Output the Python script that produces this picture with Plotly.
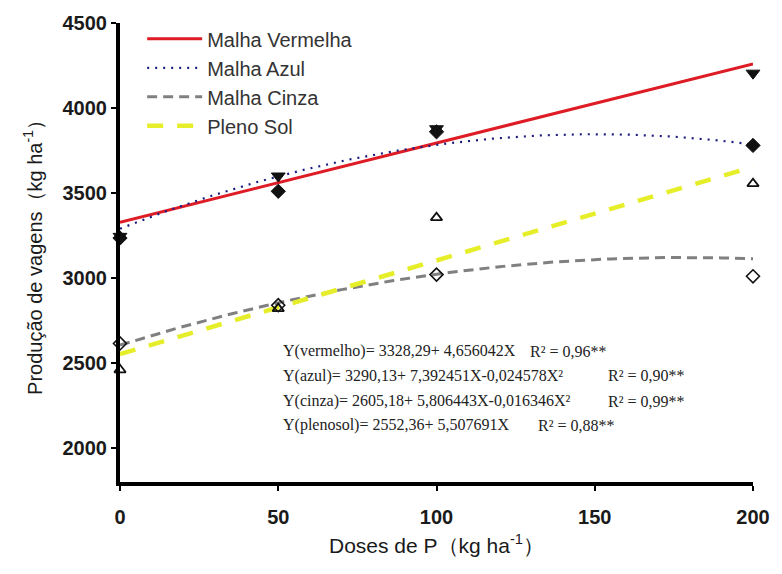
import numpy as np
import plotly.graph_objects as go

# Phosphorus doses (kg ha-1)
doses = [0, 50, 100, 200]

# Observed pod yield (kg ha-1) per shading net
obs_vermelha = [3245, 3600, 3878, 4205]
obs_azul = [3235, 3510, 3860, 3780]
obs_cinza = [2615, 2840, 3020, 3010]
obs_pleno_sol = [2460, 2820, 3355, 3555]

# Regression coefficients [b0, b1, b2] as given by the fitted equations
coef_vermelha = [3328.29, 4.656042, 0.0]
coef_azul = [3290.13, 7.392451, -0.024578]
coef_cinza = [2605.18, 5.806443, -0.016346]
coef_pleno_sol = [2552.36, 5.507691, 0.0]

series_names = ["Malha Vermelha", "Malha Azul", "Malha Cinza", "Pleno Sol"]
equation_texts = [
    "Y(vermelho)= 3328,29+ 4,656042X",
    "Y(azul)= 3290,13+ 7,392451X-0,024578X²",
    "Y(cinza)= 2605,18+ 5,806443X-0,016346X²",
    "Y(plenosol)= 2552,36+ 5,507691X",
]
r2_texts = ["R² = 0,96**", "R² = 0,90**", "R² = 0,99**", "R² = 0,88**"]

y_ticks = [2000, 2500, 3000, 3500, 4000, 4500]
x_ticks = [0, 50, 100, 150, 200]

line_styles = [
    dict(color="#dd1c25", width=3, dash="solid"),
    dict(color="#1c1c80", width=2.2, dash="2px,6px"),
    dict(color="#808080", width=3, dash="10px,6px"),
    dict(color="#e6ee2a", width=4.5, dash="16px,14px"),
]
marker_styles = [
    dict(symbol="triangle-down", size=12, color="#111111", line=dict(color="#111111", width=1)),
    dict(symbol="diamond", size=11, color="#111111", line=dict(color="#111111", width=1)),
    dict(symbol="diamond-open", size=10, color="#111111", line=dict(color="#111111", width=1.6)),
    dict(symbol="triangle-up-open", size=10, color="#111111", line=dict(color="#111111", width=1.8)),
]

observed = [obs_vermelha, obs_azul, obs_cinza, obs_pleno_sol]
coefs = [coef_vermelha, coef_azul, coef_cinza, coef_pleno_sol]

x_fit = np.linspace(0, 200, 201)

fig = go.Figure()

# Fitted curves (shown in the legend)
for name, c, ls in zip(series_names, coefs, line_styles):
    y_fit = c[0] + c[1] * x_fit + c[2] * x_fit ** 2
    fig.add_trace(go.Scatter(
        x=x_fit, y=y_fit, mode="lines", name=name, line=ls,
        cliponaxis=False,
    ))

# Observed means
for name, obs, ms in zip(series_names, observed, marker_styles):
    fig.add_trace(go.Scatter(
        x=doses, y=obs, mode="markers", name=name, marker=ms,
        showlegend=False, cliponaxis=False,
    ))

# Regression equations
eq_y = [2570, 2424, 2276, 2135]
r2_x = [129, 153.5, 153.5, 131.5]
for txt, r2, yy, rx in zip(equation_texts, r2_texts, eq_y, r2_x):
    fig.add_annotation(x=51, y=yy, xref="x", yref="y", text=txt, showarrow=False,
                       xanchor="left", yanchor="middle",
                       font=dict(family="Liberation Serif", size=16, color="#222222"))
    fig.add_annotation(x=rx, y=yy, xref="x", yref="y", text=r2, showarrow=False,
                       xanchor="left", yanchor="middle",
                       font=dict(family="Liberation Serif", size=16, color="#222222"))

tick_font = dict(family="Liberation Sans", size=20, color="#1a1a1a", weight="bold")

fig.update_layout(
    width=782, height=574,
    margin=dict(l=120, r=22, t=23, b=92),
    paper_bgcolor="white", plot_bgcolor="white",
    showlegend=True,
    legend=dict(
        x=0.035, y=1.008, xanchor="left", yanchor="top",
        bgcolor="rgba(0,0,0,0)", itemwidth=55,
        font=dict(family="Liberation Sans", size=20, color="#333333"),
        tracegroupgap=0,
    ),
    xaxis=dict(
        range=[0, 200], tickvals=x_ticks, ticktext=[str(v) for v in x_ticks],
        showgrid=False, zeroline=False,
        showline=True, linecolor="black", linewidth=4,
        ticks="outside", ticklen=5, tickwidth=1.5, tickcolor="black",
        tickfont=tick_font,
        ticklabelstandoff=9,
        title=dict(text="Doses de P（kg ha<sup>-1</sup>）",
                   font=dict(family="Liberation Sans", size=21, color="#1a1a1a"), standoff=12),
    ),
    yaxis=dict(
        range=[1800, 4500], tickvals=y_ticks, ticktext=[str(v) for v in y_ticks],
        showgrid=False, zeroline=False,
        showline=True, linecolor="black", linewidth=4,
        ticks="outside", ticklen=5, tickwidth=1.5, tickcolor="black",
        tickfont=tick_font,
        title=dict(text="Produção de vagens（kg ha<sup>-1</sup>）",
                   font=dict(family="Liberation Sans", size=20, color="#1a1a1a"), standoff=16),
    ),
)

fig.write_html("out.html")
